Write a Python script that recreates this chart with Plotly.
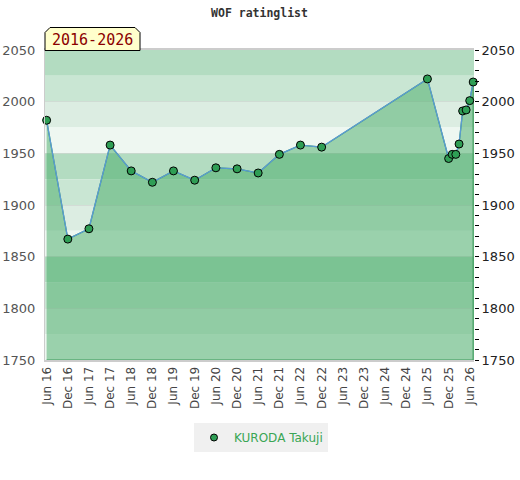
import plotly.graph_objects as go

# ---- data ----
dates = ["2016-06-01", "2016-12-01", "2017-06-01", "2017-12-01", "2018-06-01",
         "2018-12-01", "2019-06-01", "2019-12-01", "2020-06-01", "2020-12-01",
         "2021-06-01", "2021-12-01", "2022-06-01", "2022-12-01", "2025-06-01",
         "2025-12-01", "2026-01-01", "2026-02-01", "2026-03-01", "2026-04-01",
         "2026-05-01", "2026-06-01", "2026-07-01"]
ratings = [1982, 1867, 1877, 1958, 1933, 1922, 1933, 1924, 1936, 1935, 1931,
           1949, 1958, 1956, 2022, 1945, 1949, 1949, 1959, 1991, 1992, 2001, 2019]
player = "KURODA Takuji"
title = "WOF ratinglist"
tick_vals = ["2016-06-01", "2016-12-01", "2017-06-01", "2017-12-01", "2018-06-01",
             "2018-12-01", "2019-06-01", "2019-12-01", "2020-06-01", "2020-12-01",
             "2021-06-01", "2021-12-01", "2022-06-01", "2022-12-01", "2023-06-01",
             "2023-12-01", "2024-06-01", "2024-12-01", "2025-06-01", "2025-12-01",
             "2026-06-01"]
tick_text = ["Jun 16", "Dec 16", "Jun 17", "Dec 17", "Jun 18", "Dec 18", "Jun 19",
             "Dec 19", "Jun 20", "Dec 20", "Jun 21", "Dec 21", "Jun 22", "Dec 22",
             "Jun 23", "Dec 23", "Jun 24", "Dec 24", "Jun 25", "Dec 25", "Jun 26"]
y_min, y_max = 1750, 2050
band_step = 25
band_colors = ["#b3dcc1", "#c9e6d3", "#dcede2", "#eef7f1"]

W, H = 520, 480
ML, MR, MT, MB = 45, 46, 50, 120
PW, PH = W - ML - MR, H - MT - MB


def px(x):
    return (x - ML) / PW


def py(y):
    return (H - MB - y) / PH


fig = go.Figure()

# filled polygon under the curve
fig.add_trace(go.Scatter(
    x=dates + [dates[-1], dates[0]],
    y=ratings + [y_min, y_min],
    fill="toself", fillcolor="rgba(63,168,97,0.48)",
    mode="lines", line=dict(color="#3a9a5a", width=1.2),
    hoverinfo="skip", showlegend=False))

# rating line
fig.add_trace(go.Scatter(
    x=dates, y=ratings, mode="lines+markers",
    line=dict(color="#5b9bd5", width=1.3),
    marker=dict(size=8, color="#2f9e55", line=dict(color="black", width=1)),
    cliponaxis=False, showlegend=False))

# legend entry
fig.add_trace(go.Scatter(
    x=[None], y=[None], mode="markers", name=player,
    marker=dict(size=7, color="#2f9e55", line=dict(color="black", width=1))))

# invisible trace for the right axis
fig.add_trace(go.Scatter(
    x=dates, y=ratings, yaxis="y2", mode="markers",
    marker=dict(opacity=0), hoverinfo="skip", showlegend=False))

# background bands
shapes = []
n_bands = (y_max - y_min) // band_step
for i in range(n_bands):
    top = y_max - i * band_step
    shapes.append(dict(type="rect", xref="paper", yref="y", x0=0, x1=1,
                       y0=top - band_step, y1=top, line=dict(width=0),
                       fillcolor=band_colors[i % 4], layer="below"))

# badge with chamfered top corners
x0, x1, y0, y1, c = 45, 140, 27.5, 50.5, 5
path = (f"M {px(x0)} {py(y1)} L {px(x0)} {py(y0 + c)} L {px(x0 + c)} {py(y0)} "
        f"L {px(x1 - c)} {py(y0)} L {px(x1)} {py(y0 + c)} L {px(x1)} {py(y1)} Z")
shapes.append(dict(type="path", xref="paper", yref="paper", path=path,
                   fillcolor="#ffffcc", line=dict(color="black", width=1),
                   layer="above"))

badge = f"{dates[0][:4]}-{dates[-1][:4]}"

fig.update_layout(
    width=W, height=H,
    margin=dict(l=ML, r=MR, t=MT, b=MB, autoexpand=False),
    paper_bgcolor="white", plot_bgcolor="white",
    title=dict(text=title, x=0.5, xref="paper", y=1 - 13 / H, yanchor="middle",
               font=dict(family="DejaVu Sans Mono", size=11.5, color="#333333",
                         weight="bold")),
    xaxis=dict(type="date", range=["2016-05-18", "2026-07-08"],
               tickvals=tick_vals, ticktext=tick_text, tickangle=-90,
               tickfont=dict(family="DejaVu Sans", size=12, color="#444444"),
               showgrid=False, zeroline=False, ticks="", automargin=False,
               showline=True, linecolor="#cccccc", linewidth=2, mirror=True),
    yaxis=dict(range=[y_min, y_max], dtick=50, side="left", automargin=False,
               tickfont=dict(family="DejaVu Sans", size=13, color="#555555"),
               showgrid=True, gridcolor="rgba(200,200,200,0.45)", gridwidth=1,
               zeroline=False, ticks="", ticklabelstandoff=6,
               showline=True, linecolor="#cccccc", linewidth=1),
    yaxis2=dict(range=[y_min, y_max], dtick=50, side="right", overlaying="y",
                automargin=False,
                tickfont=dict(family="DejaVu Sans", size=13, color="#222222"),
                showgrid=False, zeroline=False, showline=False,
                ticks="outside", ticklen=4, tickcolor="black", tickwidth=1,
                minor=dict(dtick=10, ticks="outside", ticklen=4,
                           tickcolor="black", tickwidth=1)),
    shapes=shapes,
    annotations=[dict(text=badge, xref="paper", yref="paper",
                      x=px((x0 + x1) / 2), y=py((y0 + y1) / 2 + 1),
                      showarrow=False, xanchor="center", yanchor="middle",
                      font=dict(family="DejaVu Sans Mono", size=15,
                                color="#8b0000"))],
    legend=dict(orientation="h", x=(261 / W), xanchor="center", xref="container",
                y=(H - 423) / H, yanchor="top", yref="container",
                bgcolor="#f0f0f0", itemwidth=30,
                font=dict(family="DejaVu Sans", size=12, color="#3aa655")),
    showlegend=True,
)

fig.write_html("out.html", config={"displayModeBar": False},
               post_script="document.body.style.margin='0';document.body.style.padding='0';")
